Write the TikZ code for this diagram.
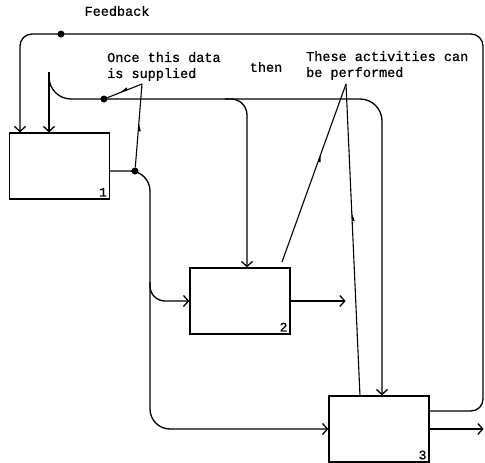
\documentclass[tikz,border=0pt]{standalone}
\usepackage{fontspec}
\newfontfamily\typew[FakeBold=0.8]{Liberation Mono}
\usepackage{tikz}
\usetikzlibrary{arrows.meta,positioning,calc,decorations.markings}

\begin{document}
\begin{tikzpicture}[
  x=1pt, y=-1pt,
  act/.style={draw, line width=1.3pt, minimum width=100pt, minimum height=66pt, inner sep=0pt},
  num/.style={anchor=south east, inner sep=3pt, font=\typew\fontsize{13}{15}\selectfont},
  txt/.style={font=\typew\fontsize{13.5}{16}\selectfont, align=left, inner sep=0pt},
  flow/.style={line width=1.3pt, rounded corners=16pt},
  arr/.style={flow, -{Straight Barb[length=5pt, width=11pt]}},
  note/.style={line width=1.1pt, postaction={decorate}},
  mk/.style={decoration={markings, mark=at position #1 with {\fill (-5pt,0) -- (3pt,0) -- (3pt,2.6pt) -- cycle;}}},
  dot/.style={circle, fill, inner sep=0pt, minimum size=7pt}
]
\useasboundingbox (0,0) rectangle (485,463);

% activities
\node[act, label={[num]south east:1}] (one) at (59.5,166) {};
\node[act, label={[num]south east:2}] (two) at (240,301) {};
\node[act, label={[num]south east:3}] (three) at (379,429) {};

% texts
\node[txt] (fbtxt) at (117,11) {Feedback};
\node[txt, anchor=north west] (oncetxt) at (107,52) {Once this data\\is supplied};
\node[txt] (thentxt) at (266,67) {then};
\node[txt, anchor=north west] (thesetxt) at (306,51) {These activities can\\be performed};

\coordinate (fbin) at (20,34);
\coordinate (src) at (49,72);
\coordinate (drop2) at (247,99);
\coordinate (drop3) at (382,99);
\coordinate (trunk) at (150,171);
\coordinate (oncetip) at (142,84);
\coordinate (thesetip) at (346,84);

% feedback loop
\draw[arr, rounded corners=12pt] ([yshift=18pt]three.east) -- (483,411) -- (483,34) -- (fbin) -- (one.north -| fbin);
\node[dot] (fbdot) at (61,34) {};

% data supplied
\draw[arr] (src) -- (one.north -| src);
\draw[arr, rounded corners=22pt] (src) -- (49,99) -- (drop3) -- (three.north -| drop3);
\draw[arr] (225,99) -- (drop2) -- (two.north -| drop2);
\node[dot] (datadot) at (104,99) {};

% output of 1
\draw[arr, rounded corners=20pt] ([yshift=-5pt]one.east) -- (trunk) -- (trunk |- three.west) -- (three.west);
\draw[arr, rounded corners=15pt] (150,282) -- (trunk |- two.west) -- (two.west);
\node[dot] (outdot) at (135,171) {};

% outputs of 2 and 3
\draw[arr] (two.east) -- ++(55,0);
\draw[arr] (three.east) -- ++(54,0);

% annotation lines
\draw[note, mk=0.5] (datadot) -- (oncetip);
\draw[note, mk=0.53] (oncetip) -- (outdot);
\draw[note, mk=0.42] (thesetip) -- (282,262);
\draw[note, mk=0.43] (thesetip) -- (360,396);
\end{tikzpicture}
\end{document}
